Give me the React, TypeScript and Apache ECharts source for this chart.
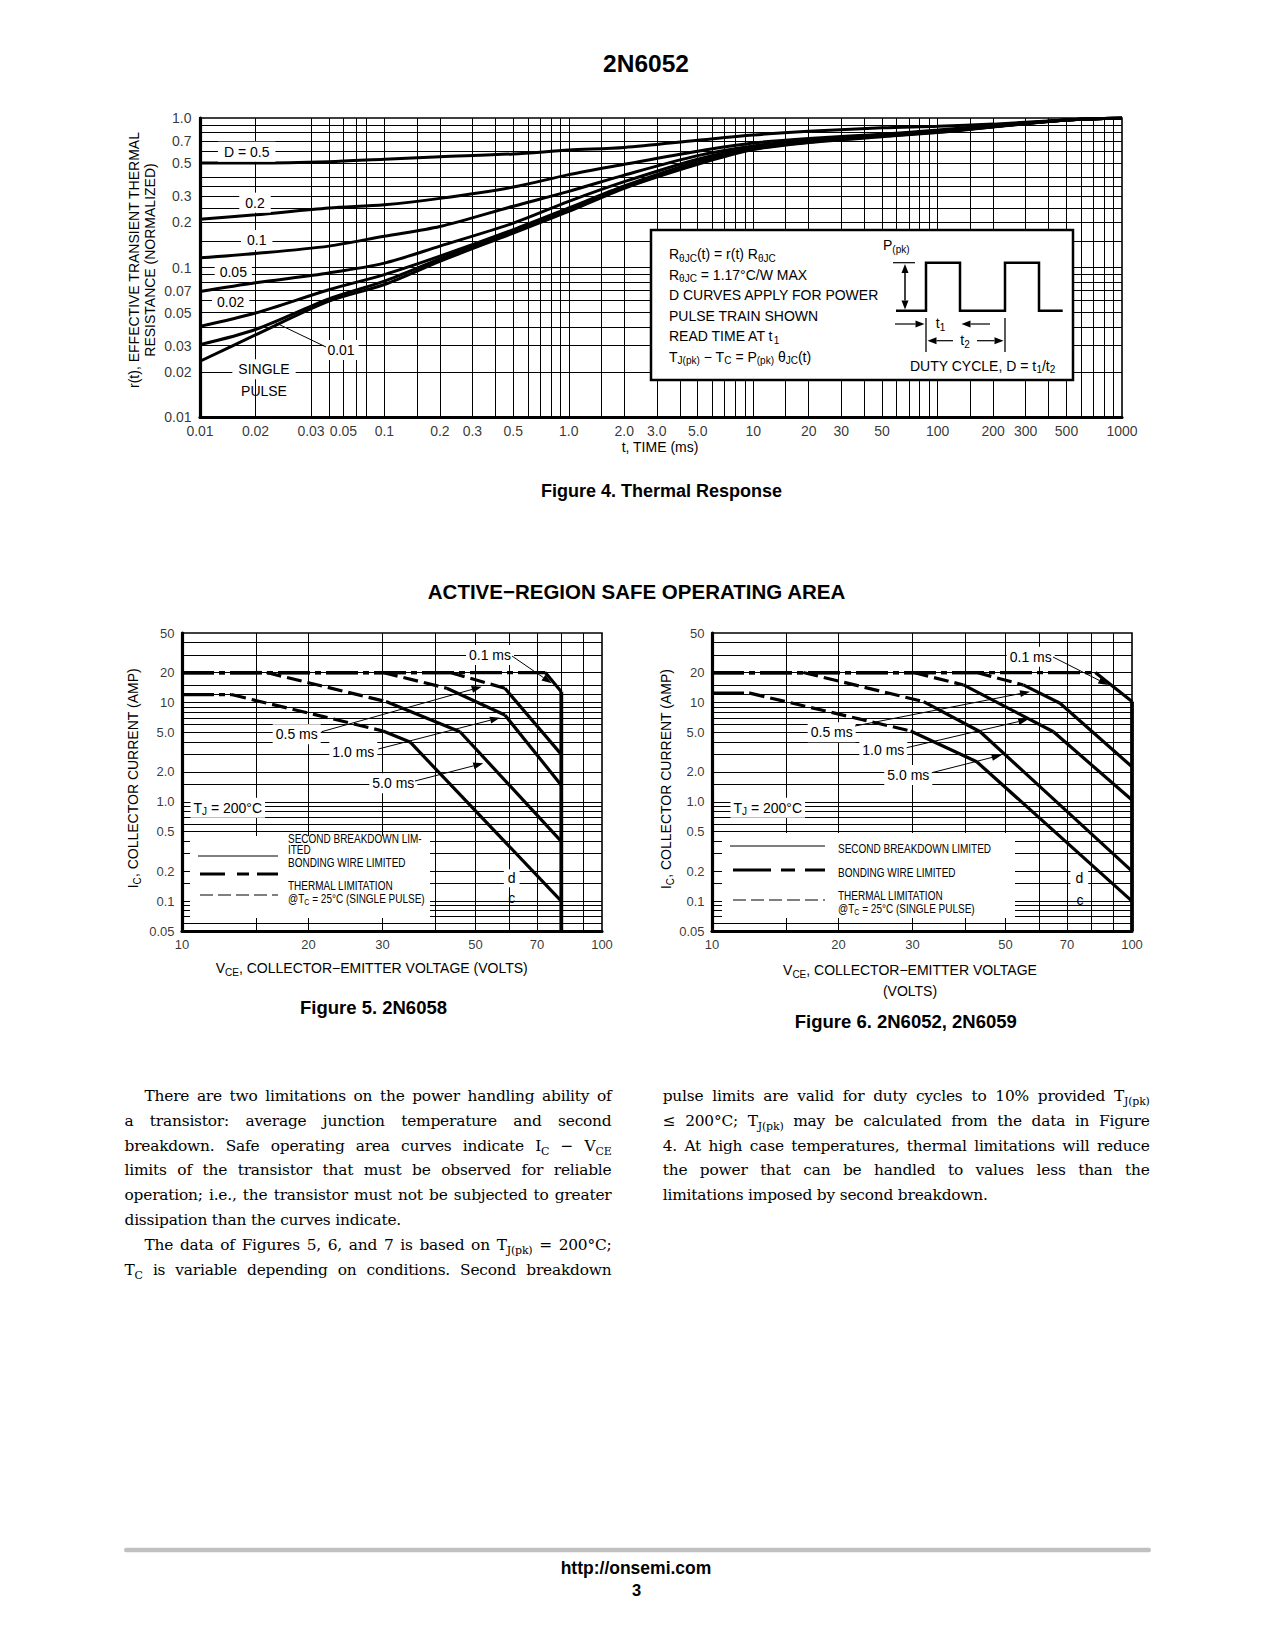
import React, { useEffect, useRef } from "react";
import * as echarts from "echarts";

const SANS = "'Liberation Sans', Arial, Helvetica, sans-serif";
const SERIF = "'DejaVu Serif', 'Liberation Serif', serif";

// ---------------- Figure 4: thermal response ----------------
const TIME_MS = [0.01, 0.02, 0.05, 0.1, 0.2, 0.5, 1, 2, 5, 10, 20, 50, 100, 200, 500, 1000];
const R_D_050 = [0.5, 0.5, 0.51, 0.53, 0.55, 0.575, 0.61, 0.635, 0.71, 0.77, 0.815, 0.86, 0.88, 0.91, 0.97, 1.0];
const R_D_020 = [0.21, 0.225, 0.25, 0.263, 0.29, 0.345, 0.418, 0.49, 0.6, 0.68, 0.73, 0.78, 0.83, 0.89, 0.97, 1.0];
const R_D_010 = [0.116, 0.124, 0.139, 0.162, 0.188, 0.257, 0.323, 0.415, 0.56, 0.65, 0.71, 0.77, 0.82, 0.885, 0.97, 1.0];
const R_D_005 = [0.069, 0.079, 0.092, 0.107, 0.139, 0.198, 0.277, 0.375, 0.53, 0.635, 0.7, 0.765, 0.815, 0.88, 0.97, 1.0];
const R_D_002 = [0.0404, 0.0496, 0.071, 0.0896, 0.119, 0.179, 0.25, 0.351, 0.51, 0.625, 0.695, 0.76, 0.81, 0.875, 0.97, 1.0];
const R_D_001 = [0.0305, 0.0385, 0.0616, 0.081, 0.114, 0.175, 0.244, 0.345, 0.5, 0.62, 0.69, 0.755, 0.805, 0.875, 0.97, 1.0];
const R_SINGLE = [0.0236, 0.0354, 0.0595, 0.077, 0.11, 0.17, 0.237, 0.339, 0.49, 0.615, 0.685, 0.75, 0.8, 0.87, 0.97, 1.0];
const FIG4_CURVES = [R_D_050, R_D_020, R_D_010, R_D_005, R_D_002, R_D_001, R_SINGLE];

const FIG4_X_TICK_POS = [0.01, 0.02, 0.04, 0.06, 0.1, 0.2, 0.3, 0.5, 1, 2, 3, 5, 10, 20, 30, 50, 100, 200, 300, 500, 1000];
const FIG4_X_TICK_LABELS = ["0.01", "0.02", "0.03", "0.05", "0.1", "0.2", "0.3", "0.5", "1.0", "2.0", "3.0", "5.0", "10", "20", "30", "50", "100", "200", "300", "500", "1000"];
const FIG4_Y_TICK_POS = [0.01, 0.02, 0.03, 0.05, 0.07, 0.1, 0.2, 0.3, 0.5, 0.7, 1];
const FIG4_Y_TICK_LABELS = ["0.01", "0.02", "0.03", "0.05", "0.07", "0.1", "0.2", "0.3", "0.5", "0.7", "1.0"];
const FIG4_X_GRID = [0.015, 0.02, 0.04, 0.05, 0.06, 0.07, 0.08, 0.1, 0.15, 0.2, 0.3, 0.4, 0.5, 0.6, 0.7, 0.8, 0.9, 1, 1.5, 2, 3, 4, 5, 6, 7, 8, 9, 10, 15, 20, 30, 40, 50, 60, 70, 80, 90, 100, 150, 200, 300, 400, 500, 600, 700, 800, 900];
const FIG4_Y_GRID = [0.015, 0.02, 0.025, 0.03, 0.04, 0.05, 0.06, 0.07, 0.08, 0.09, 0.1, 0.15, 0.2, 0.25, 0.3, 0.35, 0.4, 0.5, 0.6, 0.7, 0.8, 0.9];

// ---------------- SOA charts (Figures 5 and 6) ----------------
const SOA_X_TICK_POS = [10, 20, 30, 50, 70, 100];
const SOA_X_TICK_LABELS = ["10", "20", "30", "50", "70", "100"];
const SOA_Y_TICK_POS = [0.05, 0.1, 0.2, 0.5, 1, 2, 5, 10, 20, 50];
const SOA_Y_TICK_LABELS = ["0.05", "0.1", "0.2", "0.5", "1.0", "2.0", "5.0", "10", "20", "50"];
const SOA_X_GRID = [15, 20, 30, 40, 50, 60, 70, 80, 90];
const SOA_Y_GRID = [0.06, 0.07, 0.08, 0.09, 0.1, 0.15, 0.2, 0.3, 0.4, 0.5, 0.6, 0.7, 0.8, 0.9, 1, 1.5, 2, 3, 4, 5, 6, 7, 8, 9, 10, 12, 15, 20, 30, 40];

// segment kinds: bw = bonding wire, th = thermal, sb = second breakdown, lim = voltage limit
// Figure 5: 2N6058
const F5_V_01MS = [10, 73.3, 80, 80];
const F5_I_01MS = [20, 20, 12.8, 0.05];
const F5_K_01MS = ["bw", "sb", "lim"];
const F5_V_05MS = [10, 43.5, 58.7, 80];
const F5_I_05MS = [20, 20, 13.9, 3.0];
const F5_K_05MS = ["bw", "th", "sb"];
const F5_V_1MS = [10, 30.1, 42.7, 58.7, 80];
const F5_I_1MS = [20, 20, 13.9, 7.48, 1.47];
const F5_K_1MS = ["bw", "th", "sb", "sb"];
const F5_V_5MS = [10, 15.9, 30.6, 45.9, 80];
const F5_I_5MS = [20, 20, 10.2, 5.07, 0.4];
const F5_K_5MS = ["bw", "th", "sb", "sb"];
const F5_V_DC = [10, 13.1, 30.1, 34.9, 80];
const F5_I_DC = [12, 12, 5.16, 4.0, 0.1];
const F5_K_DC = ["bw", "th", "sb", "sb"];

// Figure 6: 2N6052, 2N6059
const F6_V_01MS = [10, 81.8, 100, 100];
const F6_I_01MS = [20, 20, 10.2, 0.05];
const F6_K_01MS = ["bw", "sb", "lim"];
const F6_V_05MS = [10, 42.7, 55.1, 67.4, 100];
const F6_I_05MS = [20, 20, 15.0, 9.8, 2.25];
const F6_K_05MS = ["bw", "th", "sb", "sb"];
const F6_V_1MS = [10, 30.2, 39.7, 65.0, 100];
const F6_I_1MS = [20, 20, 15.0, 5.07, 1.04];
const F6_K_1MS = ["bw", "th", "sb", "sb"];
const F6_V_5MS = [10, 16.5, 31.9, 43.5, 100];
const F6_I_5MS = [20, 20, 10.2, 5.07, 0.2];
const F6_K_5MS = ["bw", "th", "sb", "sb"];
const F6_V_DC = [10, 12.3, 29.7, 42.7, 100];
const F6_I_DC = [12.4, 12.4, 5.16, 2.53, 0.1];
const F6_K_DC = ["bw", "th", "sb", "sb"];

const F5_CURVES = [
  [F5_V_01MS, F5_I_01MS, F5_K_01MS],
  [F5_V_05MS, F5_I_05MS, F5_K_05MS],
  [F5_V_1MS, F5_I_1MS, F5_K_1MS],
  [F5_V_5MS, F5_I_5MS, F5_K_5MS],
  [F5_V_DC, F5_I_DC, F5_K_DC],
];
const F6_CURVES = [
  [F6_V_01MS, F6_I_01MS, F6_K_01MS],
  [F6_V_05MS, F6_I_05MS, F6_K_05MS],
  [F6_V_1MS, F6_I_1MS, F6_K_1MS],
  [F6_V_5MS, F6_I_5MS, F6_K_5MS],
  [F6_V_DC, F6_I_DC, F6_K_DC],
];

const SEG_STYLE: any = {
  bw: { width: 3.2, type: [32, 5, 6, 5] },
  th: { width: 3.2, type: [15, 6] },
  sb: { width: 3.2, type: "solid" },
  lim: { width: 3.8, type: "solid" },
};

// ---------------- helpers ----------------
function rich(size: number, fam: string) {
  const s = Math.round(size * 0.72);
  return { s: { fontSize: s, fontFamily: fam, lineHeight: s, verticalAlign: "bottom", fill: "#000" } };
}

function T(x: number, y: number, text: string, o: any = {}) {
  const size = o.size ?? 14;
  const fam = o.family ?? SANS;
  const align = o.align ?? "left";
  const va = o.va ?? "middle";
  const style: any = {
    text,
    fill: "#000",
    fontSize: size,
    fontFamily: fam,
    fontWeight: o.weight ?? "normal",
    lineHeight: Math.round(size * 1.3),
    align,
    verticalAlign: va,
    rich: rich(size, fam),
  };
  if (o.bg) {
    style.backgroundColor = "#fff";
    style.padding = o.pad ?? [0, 3];
  }
  const el: any = { type: "text", x, y, z: o.z ?? 20, rotation: o.rot ?? 0, silent: true, style };
  if (o.sx) el.scaleX = o.sx;
  return el;
}

function L(x1: number, y1: number, x2: number, y2: number, w = 1, dash?: number[], z = 20) {
  const style: any = { stroke: "#000", lineWidth: w };
  if (dash) style.lineDash = dash;
  return { type: "line", z, silent: true, shape: { x1, y1, x2, y2 }, style };
}

function arrow(x1: number, y1: number, x2: number, y2: number, lw = 1, hl = 10, hw = 3.5) {
  const dx = x2 - x1;
  const dy = y2 - y1;
  const len = Math.hypot(dx, dy);
  const ux = dx / len;
  const uy = dy / len;
  const bx = x2 - ux * hl;
  const by = y2 - uy * hl;
  const px = -uy;
  const py = ux;
  return [
    L(x1, y1, bx, by, lw, undefined, 22),
    {
      type: "polygon",
      z: 22,
      silent: true,
      shape: { points: [[x2, y2], [bx + px * hw, by + py * hw], [bx - px * hw, by - py * hw]] },
      style: { fill: "#000" },
    },
  ];
}

function axisX(gi: number, min: number, max: number) {
  return {
    type: "log",
    logBase: 10,
    gridIndex: gi,
    min,
    max,
    axisLine: { show: true, onZero: false, lineStyle: { color: "#000", width: 3.2 } },
    axisTick: { show: false },
    axisLabel: { show: false },
    splitLine: { show: false },
    minorTick: { show: false },
    minorSplitLine: { show: false },
  };
}

function gridAndLabels(gi: number, xmin: number, ymin: number, xGrid: number[], yGrid: number[], xTicks: number[], xLabels: string[], yTicks: number[], yLabels: string[], fs: number, xDist: number, yDist: number) {
  const common = {
    type: "scatter",
    xAxisIndex: gi,
    yAxisIndex: gi,
    z: 2,
    silent: true,
    clip: false,
    symbolSize: 1,
    itemStyle: { color: "rgba(0,0,0,0)" },
    emphasis: { disabled: true },
  };
  return [
    {
      ...common,
      data: xTicks.map((v, i) => ({ value: [v, ymin], name: xLabels[i] })),
      label: { show: true, position: "bottom", distance: xDist, formatter: "{b}", color: "#000", fontSize: fs, fontFamily: SANS },
      markLine: {
        silent: true,
        symbol: ["none", "none"],
        label: { show: false },
        lineStyle: { color: "#000", width: 1, type: "solid" },
        data: [...xGrid.map((v) => ({ xAxis: v })), ...yGrid.map((v) => ({ yAxis: v }))],
      },
    },
    {
      ...common,
      data: yTicks.map((v, i) => ({ value: [xmin, v], name: yLabels[i] })),
      label: { show: true, position: "left", distance: yDist, formatter: "{b}", color: "#000", fontSize: fs, fontFamily: SANS },
    },
  ];
}

function soaSeries(gi: number, curves: any[]) {
  const out: any[] = [];
  curves.forEach((c) => {
    const [vs, is, ks] = c;
    for (let k = 0; k < ks.length; k++) {
      const st = SEG_STYLE[ks[k]];
      out.push({
        type: "line",
        xAxisIndex: gi,
        yAxisIndex: gi,
        z: 5,
        silent: true,
        symbol: "none",
        clip: false,
        data: [
          [vs[k], is[k]],
          [vs[k + 1], is[k + 1]],
        ],
        lineStyle: { color: "#000", width: st.width, type: st.type, dashOffset: 0, cap: "butt" },
      });
    }
  });
  return out;
}

const LEG = { size: 12.5, sx: 0.8 };

function buildGraphics() {
  const g: any[] = [];
  // page headings
  g.push(T(646, 63, "2N6052", { size: 24.5, weight: "bold", align: "center" }));
  g.push(T(661.5, 491, "Figure 4. Thermal Response", { size: 18, weight: "bold", align: "center" }));
  g.push(T(636.5, 591, "ACTIVE\u2212REGION SAFE OPERATING AREA", { size: 20.5, weight: "bold", align: "center" }));
  g.push(T(373.5, 1007.5, "Figure 5. 2N6058", { size: 18.5, weight: "bold", align: "center" }));
  g.push(T(905.8, 1021.3, "Figure 6. 2N6052, 2N6059", { size: 18.5, weight: "bold", align: "center" }));

  // footer
  g.push({ type: "rect", z: 20, silent: true, shape: { x: 124, y: 1547.8, width: 1027, height: 4.5, r: 2.2 }, style: { fill: "#c0c0c0" } });
  g.push(T(636, 1567.7, "http://onsemi.com", { size: 17.5, weight: "bold", align: "center" }));
  g.push(T(636.5, 1590, "3", { size: 16.5, weight: "bold", align: "center" }));

  // ---- Figure 4 titles ----
  g.push(T(134, 260, "r(t), EFFECTIVE TRANSIENT THERMAL", { size: 14, align: "center", rot: Math.PI / 2 }));
  g.push(T(150, 260, "RESISTANCE (NORMALIZED)", { size: 14, align: "center", rot: Math.PI / 2 }));
  g.push(T(660, 446.7, "t, TIME (ms)", { size: 14, align: "center" }));

  // curve labels
  g.push(T(246.7, 151.7, "D = 0.5", { align: "center", bg: true, pad: [1, 6] }));
  g.push(T(255, 202.7, "0.2", { align: "center", bg: true, pad: [1, 6] }));
  g.push(T(256.7, 240, "0.1", { align: "center", bg: true, pad: [1, 6] }));
  g.push(T(233.3, 271.7, "0.05", { align: "center", bg: true, pad: [1, 5] }));
  g.push(T(230.7, 301.7, "0.02", { align: "center", bg: true, pad: [1, 5] }));
  g.push(T(341, 350, "0.01", { align: "center", bg: true, pad: [1, 4] }));
  g.push(L(326, 347, 275, 322.5, 1));
  g.push(T(264, 369.3, "SINGLE", { align: "center", bg: true, pad: [1, 6] }));
  g.push(T(264, 390.7, "PULSE", { align: "center", z: 1 }));

  // info box
  g.push({ type: "rect", z: 18, silent: true, shape: { x: 651, y: 230, width: 422, height: 150 }, style: { fill: "#fff", stroke: "#000", lineWidth: 2.5 } });
  const bx = 669;
  g.push(T(bx, 254, "R{s|\u03b8JC}(t) = r(t) R{s|\u03b8JC}"));
  g.push(T(bx, 274.5, "R{s|\u03b8JC} = 1.17\u00b0C/W MAX"));
  g.push(T(bx, 295, "D CURVES APPLY FOR POWER"));
  g.push(T(bx, 316, "PULSE TRAIN SHOWN"));
  g.push(T(bx, 336, "READ TIME AT t{s|1}"));
  g.push(T(bx, 356.5, "T{s|J(pk)} \u2212 T{s|C} = P{s|(pk)} \u03b8{s|JC}(t)"));
  // pulse train
  g.push({
    type: "polyline",
    z: 21,
    silent: true,
    shape: { points: [[896, 310.7], [926, 310.7], [926, 262.7], [960, 262.7], [960, 310.7], [1005, 310.7], [1005, 262.7], [1039, 262.7], [1039, 310.7], [1062.7, 310.7]] },
    style: { stroke: "#000", lineWidth: 2.5, fill: "none" },
  });
  g.push(T(883, 245, "P{s|(pk)}"));
  g.push(L(893, 262.7, 915, 262.7, 1.2));
  g.push(...arrow(905, 287, 905, 264, 1.5, 9, 3.5));
  g.push(...arrow(905, 287, 905, 309.5, 1.5, 9, 3.5));
  g.push(L(926, 318, 926, 352, 1.3));
  g.push(L(1005, 318, 1005, 352, 1.3));
  g.push(...arrow(895, 324, 924.5, 324, 1.2, 9, 3.5));
  g.push(...arrow(990, 324, 961.5, 324, 1.2, 9, 3.5));
  g.push(T(940.5, 323, "t{s|1}", { align: "center" }));
  g.push(...arrow(953, 340.7, 927.5, 340.7, 1.2, 9, 3.5));
  g.push(...arrow(977, 340.7, 1003.5, 340.7, 1.2, 9, 3.5));
  g.push(T(965, 340, "t{s|2}", { align: "center" }));
  g.push(T(910, 365.5, "DUTY CYCLE, D = t{s|1}/t{s|2}"));

  // ---- Figure 5 ----
  g.push(T(133, 778.3, "I{s|C}, COLLECTOR CURRENT (AMP)", { align: "center", rot: Math.PI / 2 }));
  g.push(T(371.7, 968.3, "V{s|CE}, COLLECTOR\u2212EMITTER VOLTAGE (VOLTS)", { align: "center" }));
  g.push(T(490, 655, "0.1 ms", { align: "center", bg: true, pad: [1, 3] }));
  g.push(...arrow(512, 656, 551.7, 683.3));
  g.push(T(296.7, 734.3, "0.5 ms", { align: "center", bg: true, pad: [1, 3] }));
  g.push(...arrow(321.7, 731.7, 481.7, 686.7));
  g.push(T(353.3, 751.7, "1.0 ms", { align: "center", bg: true, pad: [1, 3] }));
  g.push(...arrow(378.3, 749, 500, 717.7));
  g.push(T(393.3, 783.3, "5.0 ms", { align: "center", bg: true, pad: [1, 3] }));
  g.push(...arrow(415, 781, 483.3, 763.3));
  g.push(T(190.5, 807.7, "T{s|J} = 200\u00b0C", { bg: true, pad: [1, 3] }));
  // legend
  g.push({ type: "rect", z: 15, silent: true, shape: { x: 190, y: 836, width: 240, height: 82 }, style: { fill: "#fff" } });
  g.push(L(198, 856, 278, 856, 1.2));
  g.push(L(200, 874, 278, 874, 3.2, [25, 12, 12, 8]));
  g.push(L(200, 895, 278, 895, 1.2, [13, 5]));
  g.push(T(288, 838.5, "SECOND BREAKDOWN LIM-", LEG));
  g.push(T(288, 850, "ITED", LEG));
  g.push(T(288, 862.7, "BONDING WIRE LIMITED", LEG));
  g.push(T(288, 886, "THERMAL LIMITATION", LEG));
  g.push(T(288, 898.5, "@T{s|C} = 25\u00b0C (SINGLE PULSE)", LEG));
  g.push(T(511.7, 878.3, "d", { align: "center", bg: true, pad: [0, 4] }));
  g.push(T(511.7, 897.5, "c", { align: "center", z: 1 }));

  // ---- Figure 6 ----
  g.push(T(666, 779, "I{s|C}, COLLECTOR CURRENT (AMP)", { align: "center", rot: Math.PI / 2 }));
  g.push(T(910, 970, "V{s|CE}, COLLECTOR\u2212EMITTER VOLTAGE", { align: "center" }));
  g.push(T(910, 990.7, "(VOLTS)", { align: "center" }));
  g.push(T(1030.7, 656.7, "0.1 ms", { align: "center", bg: true, pad: [1, 3] }));
  g.push(...arrow(1053, 657, 1108.3, 685));
  g.push(T(831.7, 732.3, "0.5 ms", { align: "center", bg: true, pad: [1, 3] }));
  g.push(...arrow(855, 726, 1030, 691.7));
  g.push(T(883.3, 750, "1.0 ms", { align: "center", bg: true, pad: [1, 3] }));
  g.push(...arrow(906.7, 747.7, 1028.3, 719.3));
  g.push(T(908.3, 775, "5.0 ms", { align: "center", bg: true, pad: [1, 3] }));
  g.push(...arrow(931.7, 772.7, 1001.7, 755));
  g.push(T(730.5, 807.7, "T{s|J} = 200\u00b0C", { bg: true, pad: [1, 3] }));
  g.push({ type: "rect", z: 15, silent: true, shape: { x: 722, y: 833, width: 293, height: 85 }, style: { fill: "#fff" } });
  g.push(L(730, 846, 825, 846, 1.2));
  g.push(L(733, 870, 825, 870, 3.2, [38, 10, 14, 10]));
  g.push(L(733, 900, 825, 900, 1.2, [13, 5]));
  g.push(T(838, 848.3, "SECOND BREAKDOWN LIMITED", LEG));
  g.push(T(838, 872.7, "BONDING WIRE LIMITED", LEG));
  g.push(T(838, 896, "THERMAL LIMITATION", LEG));
  g.push(T(838, 908.5, "@T{s|C} = 25\u00b0C (SINGLE PULSE)", LEG));
  g.push(T(1079.3, 878.3, "d", { align: "center", bg: true, pad: [0, 5] }));
  g.push(T(1080, 899.5, "c", { align: "center", z: 1 }));
  return g;
}

function buildOption() {
  const series: any[] = [];
  series.push(...gridAndLabels(0, 0.01, 0.01, FIG4_X_GRID, FIG4_Y_GRID, FIG4_X_TICK_POS, FIG4_X_TICK_LABELS, FIG4_Y_TICK_POS, FIG4_Y_TICK_LABELS, 14, 6, 8));
  series.push(...gridAndLabels(1, 10, 0.05, SOA_X_GRID, SOA_Y_GRID, SOA_X_TICK_POS, SOA_X_TICK_LABELS, SOA_Y_TICK_POS, SOA_Y_TICK_LABELS, 13, 6, 7));
  series.push(...gridAndLabels(2, 10, 0.05, SOA_X_GRID, SOA_Y_GRID, SOA_X_TICK_POS, SOA_X_TICK_LABELS, SOA_Y_TICK_POS, SOA_Y_TICK_LABELS, 13, 6, 7));
  FIG4_CURVES.forEach((arr) => {
    series.push({
      type: "line",
      xAxisIndex: 0,
      yAxisIndex: 0,
      z: 5,
      silent: true,
      symbol: "none",
      smooth: 0.3,
      data: TIME_MS.map((t, i) => [t, arr[i]]),
      lineStyle: { color: "#000", width: 3 },
    });
  });
  series.push(...soaSeries(1, F5_CURVES));
  series.push(...soaSeries(2, F6_CURVES));

  const gridCommon = { show: true, borderColor: "#000", borderWidth: 1.6, backgroundColor: "transparent", containLabel: false };
  return {
    animation: false,
    backgroundColor: "#fff",
    grid: [
      { ...gridCommon, left: 200, top: 118, width: 922, height: 299 },
      { ...gridCommon, left: 182, top: 633, width: 420, height: 298 },
      { ...gridCommon, left: 712, top: 633, width: 420, height: 298 },
    ],
    xAxis: [axisX(0, 0.01, 1000), axisX(1, 10, 100), axisX(2, 10, 100)],
    yAxis: [axisX(0, 0.01, 1), axisX(1, 0.05, 50), axisX(2, 0.05, 50)],
    series,
    graphic: { elements: buildGraphics() },
  };
}

// ---------------- body text ----------------
const sub = (s: string) => <sub style={{ fontSize: 11, verticalAlign: "-4px", lineHeight: 0 }}>{s}</sub>;

const LEFT_LINES: { indent: boolean; last: boolean; content: React.ReactNode }[] = [
  { indent: true, last: false, content: "There are two limitations on the power handling ability of" },
  { indent: false, last: false, content: "a transistor: average junction temperature and second" },
  { indent: false, last: false, content: <>breakdown. Safe operating area curves indicate I{sub("C")} {"\u2212"} V{sub("CE")}</> },
  { indent: false, last: false, content: "limits of the transistor that must be observed for reliable" },
  { indent: false, last: false, content: "operation; i.e., the transistor must not be subjected to greater" },
  { indent: false, last: true, content: "dissipation than the curves indicate." },
  { indent: true, last: false, content: <>The data of Figures 5, 6, and 7 is based on T{sub("J(pk)")} = 200{"\u00b0"}C;</> },
  { indent: false, last: false, content: <>T{sub("C")} is variable depending on conditions. Second breakdown</> },
];
const RIGHT_LINES: { indent: boolean; last: boolean; content: React.ReactNode }[] = [
  { indent: false, last: false, content: <>pulse limits are valid for duty cycles to 10% provided T{sub("J(pk)")}</> },
  { indent: false, last: false, content: <>{"\u2264"} 200{"\u00b0"}C; T{sub("J(pk)")} may be calculated from the data in Figure</> },
  { indent: false, last: false, content: "4. At high case temperatures, thermal limitations will reduce" },
  { indent: false, last: false, content: "the power that can be handled to values less than the" },
  { indent: false, last: true, content: "limitations imposed by second breakdown." },
];

function Column({ lines, left }: { lines: typeof LEFT_LINES; left: number }) {
  return (
    <>
      {lines.map((ln, i) => (
        <div
          key={i}
          style={{
            position: "absolute",
            left: left + (ln.indent ? 20 : 0),
            top: 1084 + i * 24.8,
            width: 487 - (ln.indent ? 20 : 0),
            height: 25,
            lineHeight: "25px",
            fontFamily: SERIF,
            fontSize: 15.4,
            letterSpacing: "-0.2px",
            color: "#000",
            textAlign: "justify",
            textAlignLast: ln.last ? "left" : "justify",
            whiteSpace: "normal",
            zIndex: 2,
          }}
        >
          {ln.content}
        </div>
      ))}
    </>
  );
}

export default function App() {
  const ref = useRef<HTMLDivElement>(null);
  useEffect(() => {
    if (!ref.current) return;
    const chart = echarts.init(ref.current, undefined, { renderer: "svg" });
    chart.setOption(buildOption() as any);
    return () => chart.dispose();
  }, []);
  return (
    <div style={{ position: "absolute", left: 0, top: 0, width: 1275, height: 1650, background: "#fff" }}>
      <div ref={ref} style={{ position: "absolute", left: 0, top: 0, width: 1275, height: 1650 }} />
      <Column lines={LEFT_LINES} left={124.5} />
      <Column lines={RIGHT_LINES} left={662.7} />
    </div>
  );
}
